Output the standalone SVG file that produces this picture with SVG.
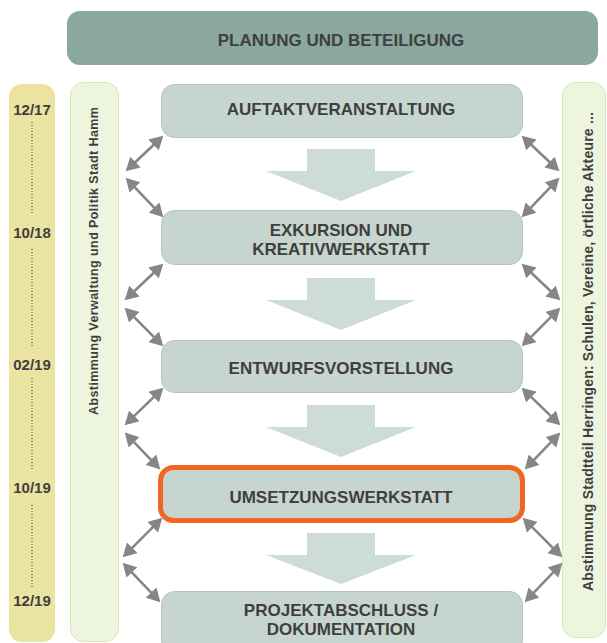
<svg xmlns="http://www.w3.org/2000/svg" width="607" height="643" viewBox="0 0 607 643">
<defs>
<style>
.t{font-family:"Liberation Sans",Arial,sans-serif;font-weight:bold;fill:#3f3f3f}
.bt{font-size:17px;text-anchor:middle}
.tl{font-size:15px;text-anchor:middle}
.box{fill:#c6d5cf;stroke:#b7c3bf;stroke-width:1}
.blk{fill:#cddcd6}
.col{fill:#eef5de;stroke:#d6e8b3;stroke-width:1}
.dot{stroke:#333;stroke-width:1;stroke-dasharray:1 2;fill:none}
.con line{stroke:#858688;stroke-width:2.6;marker-start:url(#ah);marker-end:url(#ah)}
</style>
<marker id="ah" markerUnits="userSpaceOnUse" markerWidth="15" markerHeight="15" viewBox="0 0 15 15" refX="5" refY="7.5" orient="auto-start-reverse">
<path d="M0,0 L13.5,7.5 L0,15 Z" fill="#858688"/>
</marker>
</defs>
<rect width="607" height="643" fill="#ffffff"/>

<g id="header">
<rect x="67" y="11" width="531" height="54" rx="13" fill="#8aa89f"/>
<text class="t bt" x="341" y="45.5">PLANUNG UND BETEILIGUNG</text>
</g>

<g id="timeline">
<rect x="9" y="84" width="46" height="558" rx="13" fill="#ebe3a1"/>
<text class="t tl" x="32" y="115">12/17</text>
<text class="t tl" x="32" y="238">10/18</text>
<text class="t tl" x="32" y="370">02/19</text>
<text class="t tl" x="32" y="493">10/19</text>
<text class="t tl" x="32" y="606">12/19</text>
<line class="dot" x1="32" y1="122" x2="32" y2="213"/>
<line class="dot" x1="32" y1="249" x2="32" y2="346"/>
<line class="dot" x1="32" y1="378" x2="32" y2="471"/>
<line class="dot" x1="32" y1="505" x2="32" y2="588"/>
</g>

<g id="left-column">
<rect class="col" x="70.5" y="82.5" width="48" height="559" rx="13"/>
<text class="t" font-size="12.5" x="98" y="415" transform="rotate(-90 98 415)" textLength="308" lengthAdjust="spacing">Abstimmung Verwaltung und Politik Stadt Hamm</text>
</g>

<g id="right-column">
<rect class="col" x="562.5" y="82.5" width="43" height="555" rx="13"/>
<text class="t" font-size="14" x="593" y="591" transform="rotate(-90 593 591)" textLength="479" lengthAdjust="spacing">Abstimmung Stadtteil Herringen: Schulen, Vereine, örtliche Akteure ...</text>
</g>

<g id="flow-arrows">
<polygon class="blk" points="307,149 375,149 375,171 416,171 341,201 266,171 307,171"/>
<polygon class="blk" points="307,278 375,278 375,300 416,300 341,330 266,300 307,300"/>
<polygon class="blk" points="307,405 375,405 375,427 416,427 341,457 266,427 307,427"/>
<polygon class="blk" points="307,533 375,533 375,555 416,555 341,584 266,555 307,555"/>
</g>

<g id="n1">
<rect class="box" x="161.5" y="84.5" width="361" height="53" rx="13"/>
<text class="t bt" x="341" y="114.5">AUFTAKTVERANSTALTUNG</text>
</g>
<g id="n2">
<rect class="box" x="161.5" y="210.5" width="361" height="54" rx="13"/>
<text class="t bt" x="341" y="236">EXKURSION UND</text>
<text class="t bt" x="341" y="254.5">KREATIVWERKSTATT</text>
</g>
<g id="n3">
<rect class="box" x="161.5" y="340.5" width="361" height="52" rx="13"/>
<text class="t bt" x="341" y="374">ENTWURFSVORSTELLUNG</text>
</g>
<g id="n4">
<rect x="160.5" y="467.5" width="362" height="53" rx="13" fill="#c6d5cf" stroke="#f26522" stroke-width="5"/>
<text class="t bt" x="341" y="502.5">UMSETZUNGSWERKSTATT</text>
</g>
<g id="n5">
<rect class="box" x="161.5" y="591.5" width="361" height="62" rx="13"/>
<text class="t bt" x="341" y="615.5">PROJEKTABSCHLUSS /</text>
<text class="t bt" x="341" y="635">DOKUMENTATION</text>
</g>

<g id="connectors" class="con">
<line x1="131.8" y1="165.5" x2="157.2" y2="141.5"/>
<line x1="131.5" y1="183.8" x2="157.5" y2="211.2"/>
<line x1="130.8" y1="294.5" x2="157.2" y2="269.5"/>
<line x1="130.7" y1="313.7" x2="157.3" y2="340.3"/>
<line x1="130.7" y1="419.4" x2="157.3" y2="393.6"/>
<line x1="130.6" y1="438.7" x2="154.4" y2="463.3"/>
<line x1="128.7" y1="551.3" x2="156.3" y2="523.7"/>
<line x1="128.5" y1="568.8" x2="154.5" y2="596.2"/>
<line x1="553.2" y1="165.5" x2="527.8" y2="141.5"/>
<line x1="553.5" y1="183.8" x2="527.5" y2="211.2"/>
<line x1="554.2" y1="294.5" x2="527.8" y2="269.5"/>
<line x1="554.3" y1="313.7" x2="527.7" y2="340.3"/>
<line x1="554.3" y1="419.4" x2="527.7" y2="393.6"/>
<line x1="554.4" y1="438.7" x2="530.6" y2="463.3"/>
<line x1="556.3" y1="551.3" x2="528.7" y2="523.7"/>
<line x1="556.5" y1="568.8" x2="530.5" y2="596.2"/>
</g>
</svg>
